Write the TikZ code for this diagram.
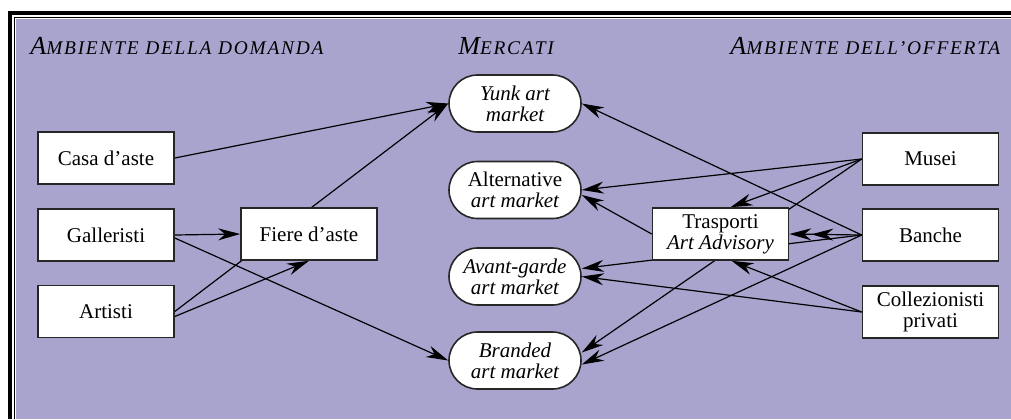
\documentclass[tikz,border=0pt]{standalone}
\usepackage{fontspec}
\setmainfont{Liberation Serif}
\newfontfamily\ttlfont[LetterSpace=9,Ligatures=TeX]{Liberation Serif}
\usetikzlibrary{arrows.meta,shapes.misc,calc}
\pgfdeclarelayer{bgfill}
\pgfdeclarelayer{edges}
\pgfsetlayers{bgfill,edges,main}
\definecolor{lav}{RGB}{168,164,206}
\newcommand\fsc[2]{{\fontsize{13}{13}\selectfont #1}{\fontsize{9.7}{9.7}\selectfont #2}}
\tikzset{
  box/.style={draw=black!85, line width=0.8pt, fill=white, minimum width=68pt, minimum height=26pt, inner sep=1pt, align=center, font=\fontsize{10.5}{10.5}\selectfont},
  mkt/.style={rounded rectangle, draw=black!85, line width=0.8pt, fill=white, minimum width=68pt, minimum height=28.5pt, inner sep=1pt, align=center, font=\fontsize{10.5}{10.5}\selectfont},
  link/.style={line width=0.6pt, -{Stealth[length=11pt,width=6pt,inset=3.5pt]}},
  linkd/.style={line width=0.6pt, -{Stealth[length=11pt,width=6pt,inset=3.5pt]Stealth[length=11pt,width=6pt,inset=3.5pt]}},
  ttl/.style={anchor=base west, inner sep=0pt, font=\ttlfont\itshape}
}
\begin{document}
\begin{tikzpicture}[x=0.5pt,y=-0.5pt]
\useasboundingbox (0,0) rectangle (1011,419);
\begin{pgfonlayer}{bgfill}
\fill[white] (0,0) rectangle (1011,419);
\fill[lav] (15.5,18.5) rectangle (1011,419);
\draw[line width=1.6pt] (10,419) -- (10,13) -- (1011,13);
\draw[line width=0.7pt] (14.5,419) -- (14.5,17.5) -- (1011,17.5);
\end{pgfonlayer}

% titles
\node[ttl] (t1) at (30,54) {\fsc{A}{MBIENTE DELLA DOMANDA}};
\node[ttl] (t2) at (458,54) {\fsc{M}{ERCATI}};
\node[ttl] (t3) at (730,54) {\fsc{A}{MBIENTE DELL’OFFERTA}};

% left nodes
\node[box] (casa) at (106,158) {Casa d’aste};
\node[box] (gall) at (106,235) {Galleristi};
\node[box] (art) at (106,311.5) {Artisti};
\node[box] (fiere) at (309,234) {Fiere d’aste};

% markets
\node[mkt] (yunk) at (515,103.5) {\itshape Yunk art\\\itshape market};
\node[mkt] (alt) at (515,190) {Alternative\\\itshape art market};
\node[mkt] (avant) at (515,276.5) {\itshape Avant-garde\\\itshape art market};
\node[mkt] (brand) at (515,360.5) {\itshape Branded\\\itshape art market};

% right nodes
\node[box] (tras) at (720.5,234) {Trasporti\\\itshape Art Advisory};
\node[box] (musei) at (930.5,159) {Musei};
\node[box] (banche) at (930.5,235) {Banche};
\node[box] (coll) at (930.5,312) {Collezionisti\\privati};

\begin{pgfonlayer}{edges}
\draw[link] (casa.east) -- (yunk.west);
\draw[link] (art.east) -- (yunk.west);
\draw[link] ($(art.east)+(0,5)$) -- (fiere.south);
\draw[link] (gall.east) -- (fiere.west);
\draw[link] ($(gall.east)+(0,3)$) -- (brand.west);

\draw[link] (musei.west) -- (alt.east);
\draw[link] (musei.west) -- ($(tras.north)+(10,0)$);
\draw[link] (musei.west) -- ($(brand.east)+(0,-8)$);
\draw[link] (banche.west) -- (yunk.east);
\draw[linkd] (banche.west) -- (tras.east);
\draw[link] (banche.west) -- ($(avant.east)+(0,-8)$);
\draw[link] (banche.west) -- ($(brand.east)+(0,4)$);
\draw[link] (coll.west) -- (avant.east);
\draw[link] (coll.west) -- ($(tras.south)+(11,0)$);
\draw[link] (tras.west) -- ($(alt.east)+(0,5)$);
\end{pgfonlayer}
\end{tikzpicture}
\end{document}
